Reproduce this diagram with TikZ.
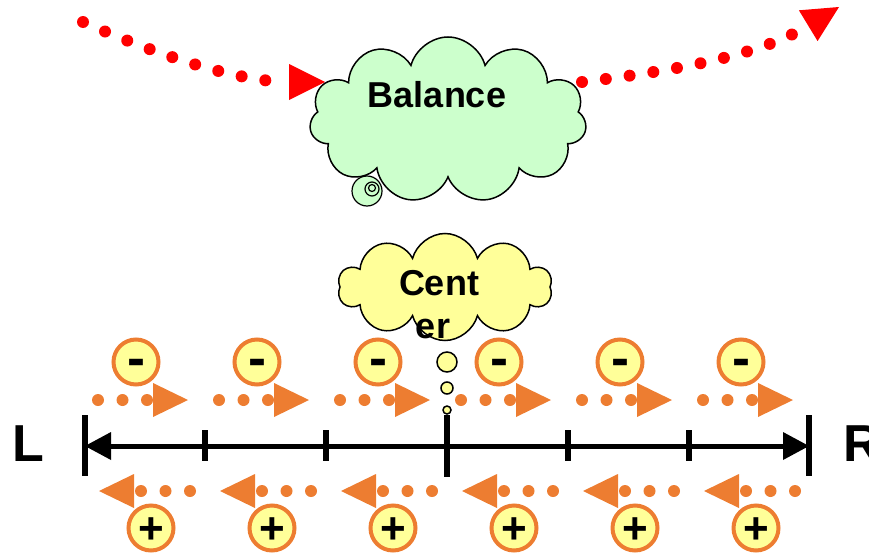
\documentclass[tikz,border=0pt]{standalone}
\usepackage{fontspec}
\setmainfont{Liberation Sans}
\usetikzlibrary{shapes.symbols,arrows.meta}
\definecolor{myorange}{HTML}{ED7D31}
\definecolor{myyellow}{HTML}{FFFF99}
\definecolor{mygreen}{HTML}{CCFFCC}
\tikzset{
  bigtext/.style={font=\bfseries\fontsize{36}{43}\selectfont,inner sep=0pt},
  charge/.style={circle,draw=myorange,line width=4pt,fill=myyellow,minimum size=45pt,inner sep=0pt},
  minuscharge/.style={charge,font=\bfseries\fontsize{54}{54}\selectfont,text height=28pt,text depth=0pt},
  pluscharge/.style={charge,font=\bfseries\fontsize{44}{44}\selectfont,text height=31pt,text depth=0pt},
  reddots/.style={red,line width=12pt,line cap=round,dash pattern=on 0pt off 24pt,-{Triangle[length=36pt,width=36pt,line width=0pt]}},
  orangedots/.style={myorange,line width=12pt,line cap=round,dash pattern=on 0pt off 24.5pt,-{Triangle[length=35pt,width=34pt,line width=0pt]}},
  tick/.style={line width=6pt}
}
\begin{document}
\begin{tikzpicture}[x=1pt,y=-1pt]
        \useasboundingbox (0,0) rectangle (869,554);

        % path over the top
        \draw[reddots] (83,22) .. controls (180,65) and (250,82) .. (325,82);
        \draw[reddots] (582,82) .. controls (680,70) and (760,55) .. (839,7);

        % balance cloud
        \fill[mygreen] (367,191) circle (15pt);
        \node[cloud,cloud puffs=11,cloud ignores aspect,draw,fill=mygreen,line width=1.5pt,minimum width=277pt,minimum height=166pt,inner sep=0pt] (bal) at (448,120) {};
        \draw[line width=1.2pt] (367,191) circle (15pt) (372,189) circle (7pt) (372,188) circle (3.5pt);
        \node[bigtext,anchor=base] (baltext) at (437,107) {Balance};

        % center cloud
        \node[cloud,cloud puffs=10,cloud ignores aspect,draw,fill=myyellow,line width=1.5pt,minimum width=214pt,minimum height=107pt,inner sep=0pt] (cen) at (445,287) {};
        \node[bigtext,anchor=base] (cent) at (439,295) {Cent};
        \node[bigtext,anchor=base] (er) at (433,338) {er};
        \foreach \y/\r in {362/10,388/6,410/4}
            \draw[fill=myyellow,line width=1.5pt] (447,\y) circle (\r pt);

        % axis
        \coordinate (Lend) at (85,446);
        \coordinate (Rend) at (809,446);
        \draw[line width=5pt,{Triangle[length=26pt,width=28pt,line width=0pt]}-{Triangle[length=26pt,width=28pt,line width=0pt]}] (Lend) -- (Rend);
        \draw[tick] (85,415) -- (85,476);
        \draw[tick] (809,415) -- (809,476);
        \draw[tick] (447,415) -- (447,477);
        \foreach \x in {205,326,568,689}
            \draw[tick] (\x,430) -- (\x,461);
        \node[font=\bfseries\fontsize{52}{52}\selectfont,inner sep=0pt,anchor=base west] (L) at (12,461) {L};
        \node[font=\bfseries\fontsize{52}{52}\selectfont,inner sep=0pt,anchor=base west] (R) at (843,461) {R};

        % charges
        \foreach \i in {0,...,5} {
            \draw[orangedots] (98+121*\i,400) -- (188+121*\i,400);
            \draw[orangedots] (190+121*\i,491) -- (99+121*\i,491);
            \node[minuscharge] (m\i) at (136+121*\i,362) {-};
            \node[pluscharge] (p\i) at (151+121*\i,528) {+};
        }
\end{tikzpicture}
\end{document}
